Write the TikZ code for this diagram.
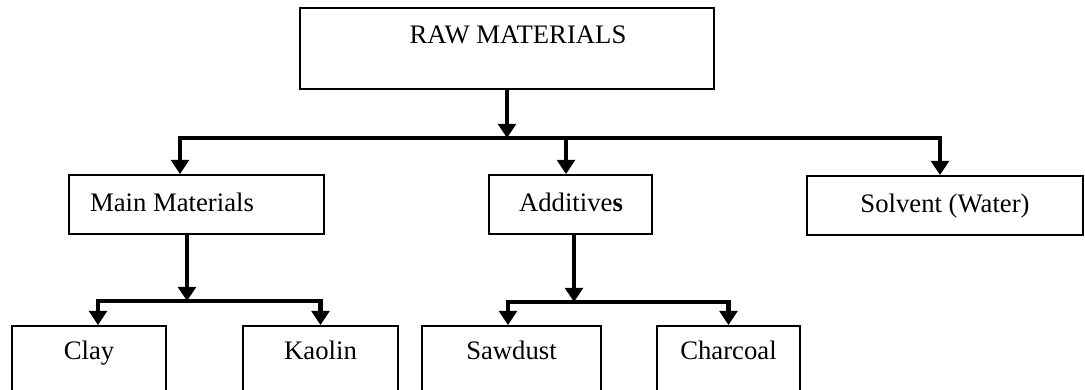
\documentclass[tikz,border=0pt]{standalone}
\usepackage{fontspec}
\setmainfont{Liberation Serif}
\usetikzlibrary{arrows.meta}
\usetikzlibrary{positioning}

\tikzset{
  box/.style={draw, rectangle, line width=1.1pt, inner sep=0pt},
  topbox/.style={box, line width=1.6pt},
  link/.style={line width=2.6pt, -{Triangle[width=10pt,length=8pt]}},
  every label/.append style={text height=2ex, text depth=0.25ex},
}

\begin{document}
\begin{tikzpicture}[x=0.02cm, y=-0.02cm, font=\fontsize{15.2}{18}\selectfont]
  \useasboundingbox (0,0) rectangle (1085,389);

  % top
  \node[topbox, minimum width=8.28cm, minimum height=1.62cm,
        label={[xshift=0.22cm, yshift=0.25cm]center:RAW MATERIALS}] (raw) at (507,48.5) {};

  % middle row
  \node[box, minimum width=5.1cm, minimum height=1.18cm,
        label={[xshift=-0.49cm]center:Main Materials}] (main) at (196.5,204.5) {};
  \node[box, minimum width=3.26cm, minimum height=1.18cm,
        label={[xshift=0.01cm]center:Additive\textbf{s}}] (add) at (570.5,204.5) {};
  \node[box, minimum width=5.52cm, minimum height=1.18cm,
        label={center:Solvent (Water)}] (solv) at (945,205.5) {};

  % bottom row
  \node[box, minimum width=3.08cm, minimum height=1.52cm,
        label={[yshift=0.24cm]center:Clay}] (clay) at (89,364) {};
  \node[box, minimum width=3.1cm, minimum height=1.52cm,
        label={[yshift=0.24cm]center:Kaolin}] (kaolin) at (320.5,364) {};
  \node[box, minimum width=3.58cm, minimum height=1.52cm,
        label={[yshift=0.24cm]center:Sawdust}] (saw) at (511.5,364) {};
  \node[box, minimum width=2.86cm, minimum height=1.52cm,
        label={[yshift=0.24cm]center:Charcoal}] (char) at (728.5,364) {};

  \coordinate (bar) at (507,138);
  \coordinate (mainbar) at (187,301);
  \coordinate (addbar) at (574,302);

  \draw[link] (raw) -- (bar);
  \draw[link] (bar) -| ([xshift=-0.33cm]main.north);
  \draw[link] (bar) -| ([xshift=-0.1cm]solv.north);
  \draw[link] ([xshift=-0.09cm]add.north |- bar) -- ([xshift=-0.09cm]add.north);

  \draw[link] (main.south -| mainbar) -- (mainbar);
  \draw[link] (mainbar) -| ([xshift=0.18cm]clay.north);
  \draw[link] (mainbar) -| (kaolin.north);

  \draw[link] (add.south -| addbar) -- (addbar);
  \draw[link] (addbar) -| ([xshift=-0.07cm]saw.north);
  \draw[link] (addbar) -| (char.north);
\end{tikzpicture}
\end{document}
